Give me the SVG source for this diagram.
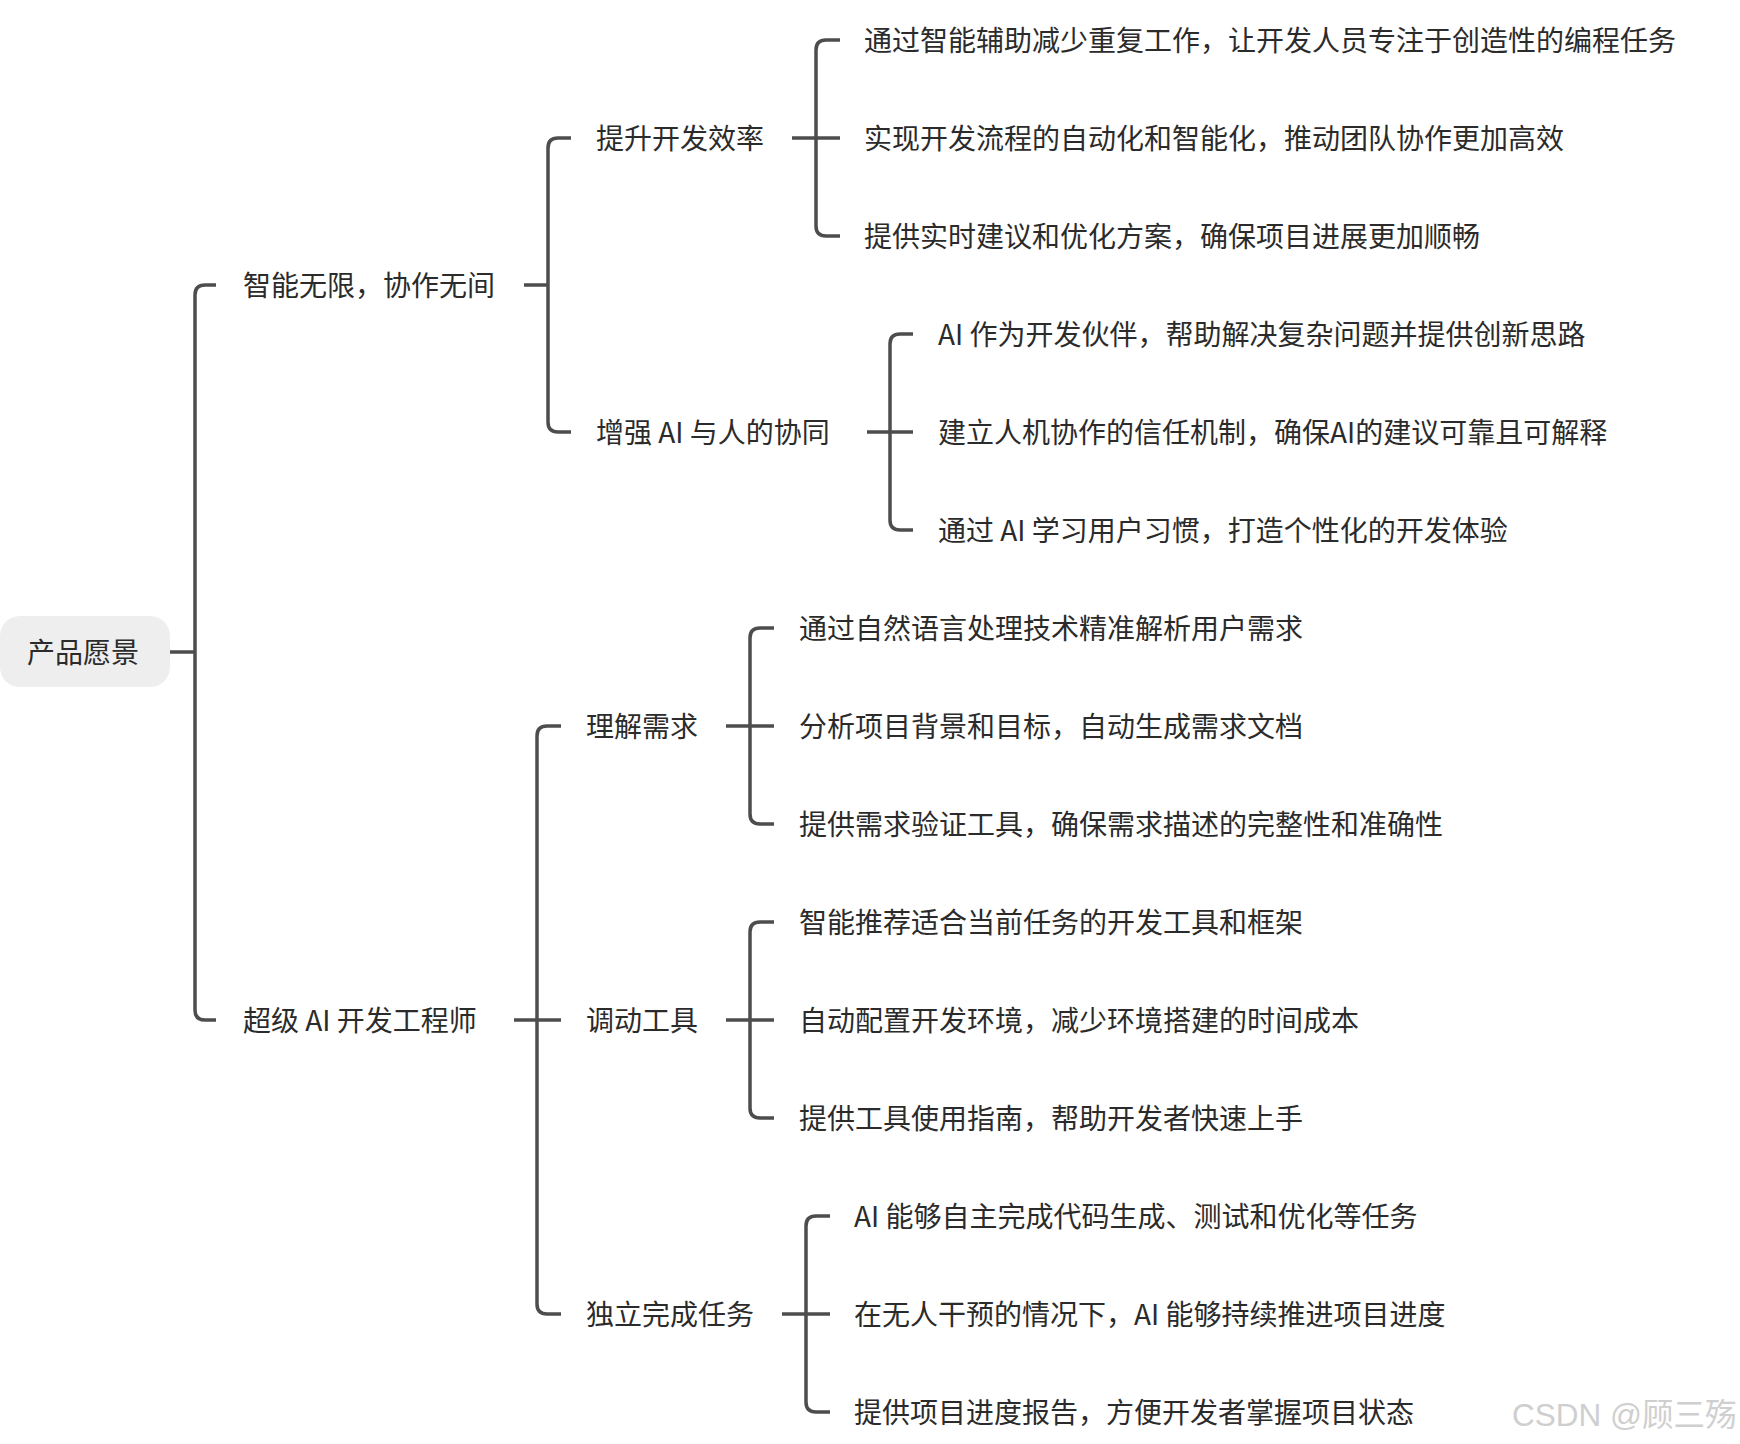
<svg xmlns="http://www.w3.org/2000/svg" width="1740" height="1444" viewBox="0 0 1740 1444">
<style>
.t{font-family:"Noto Sans CJK SC","Microsoft YaHei",sans-serif;font-size:28px;fill:#2b2b2b}
.c{fill:none;stroke:#4d4d4d;stroke-width:3.5;stroke-linecap:butt}
.wm{font-family:"Liberation Sans","Noto Sans CJK SC",sans-serif;font-size:31.5px;fill:#cfcfcf}
</style>
<rect width="1740" height="1444" fill="#ffffff"/>
<g id="connectors">
<path class="c" d="M170 652H195M216 285H205Q195 285 195 295V1010Q195 1020 205 1020H216"/>
<path class="c" d="M524 285H548M571 138H558Q548 138 548 148V422Q548 432 558 432H571"/>
<path class="c" d="M514 1020H561M561 726H547Q537 726 537 736V1304Q537 1314 547 1314H561"/>
<path class="c" d="M792 138H840M840 40H826Q816 40 816 50V226Q816 236 826 236H840"/>
<path class="c" d="M867 432H913M913 334H900Q890 334 890 344V520Q890 530 900 530H913"/>
<path class="c" d="M726 726H774M774 628H760Q750 628 750 638V814Q750 824 760 824H774"/>
<path class="c" d="M726 1020H774M774 922H760Q750 922 750 932V1108Q750 1118 760 1118H774"/>
<path class="c" d="M782 1314H830M830 1216H816Q806 1216 806 1226V1402Q806 1412 816 1412H830"/>
</g>
<g id="root"><rect x="0" y="616" width="170" height="71" rx="20" fill="#eeeeee"/><text class="t" x="83" y="663" text-anchor="middle">产品愿景</text></g>
<g id="n1"><text class="t" x="243" y="296">智能无限，协作无间</text></g>
<g id="n2"><text class="t" x="243" y="1031">超级 AI 开发工程师</text></g>
<g id="n11"><text class="t" x="596" y="149">提升开发效率</text></g>
<g id="n12"><text class="t" x="596" y="443">增强 AI 与人的协同</text></g>
<g id="n21"><text class="t" x="586" y="737">理解需求</text></g>
<g id="n22"><text class="t" x="586" y="1031">调动工具</text></g>
<g id="n23"><text class="t" x="586" y="1325">独立完成任务</text></g>
<g id="l0"><text class="t" x="864" y="51">通过智能辅助减少重复工作，让开发人员专注于创造性的编程任务</text></g>
<g id="l1"><text class="t" x="864" y="149">实现开发流程的自动化和智能化，推动团队协作更加高效</text></g>
<g id="l2"><text class="t" x="864" y="247">提供实时建议和优化方案，确保项目进展更加顺畅</text></g>
<g id="l3"><text class="t" x="938" y="345">AI 作为开发伙伴，帮助解决复杂问题并提供创新思路</text></g>
<g id="l4"><text class="t" x="938" y="443">建立人机协作的信任机制，确保AI的建议可靠且可解释</text></g>
<g id="l5"><text class="t" x="938" y="541">通过 AI 学习用户习惯，打造个性化的开发体验</text></g>
<g id="l6"><text class="t" x="799" y="639">通过自然语言处理技术精准解析用户需求</text></g>
<g id="l7"><text class="t" x="799" y="737">分析项目背景和目标，自动生成需求文档</text></g>
<g id="l8"><text class="t" x="799" y="835">提供需求验证工具，确保需求描述的完整性和准确性</text></g>
<g id="l9"><text class="t" x="799" y="933">智能推荐适合当前任务的开发工具和框架</text></g>
<g id="l10"><text class="t" x="799" y="1031">自动配置开发环境，减少环境搭建的时间成本</text></g>
<g id="l11"><text class="t" x="799" y="1129">提供工具使用指南，帮助开发者快速上手</text></g>
<g id="l12"><text class="t" x="854" y="1227">AI 能够自主完成代码生成、测试和优化等任务</text></g>
<g id="l13"><text class="t" x="854" y="1325">在无人干预的情况下，AI 能够持续推进项目进度</text></g>
<g id="l14"><text class="t" x="854" y="1423">提供项目进度报告，方便开发者掌握项目状态</text></g>
<text class="wm" x="1512" y="1426">CSDN @顾三殇</text>
</svg>
